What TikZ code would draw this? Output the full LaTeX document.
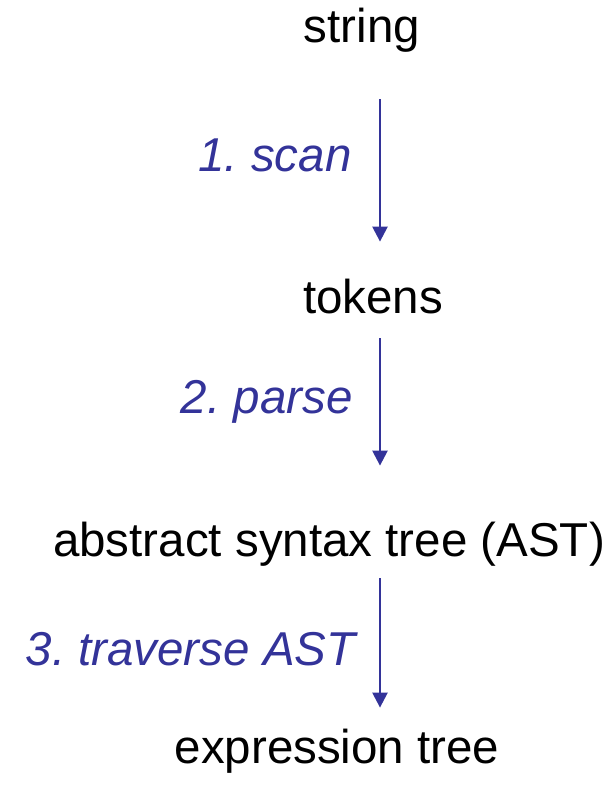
\documentclass[tikz,border=0pt]{standalone}
\usepackage{fontspec}
\setmainfont{Liberation Sans}
\usepackage{tikz}
\usetikzlibrary{positioning, arrows.meta}
\frenchspacing
\definecolor{stepblue}{HTML}{333399}
\tikzstyle{stage} = [inner sep=0pt, anchor=base, text height=17pt, text depth=5pt, font=\fontsize{23.75}{28}\selectfont]
\tikzstyle{phase} = [inner sep=0pt, anchor=base east, text=stepblue, font=\fontsize{23.75}{28}\selectfont\itshape]
\tikzstyle{arrow} = [line width=1.2pt, stepblue, -{Triangle[width=7.5pt, length=7.5pt]}]

\begin{document}
\begin{tikzpicture}[x=0.5pt, y=-0.5pt]
  \useasboundingbox (0,0) rectangle (612,786);

  % Stages (black text)
  \node (string) [stage] at (362,43) {string};
  \node (tokens) [stage] at (373,313) {tokens};
  \node (ast) [stage] at (329,556) {abstract syntax tree (AST)};
  \node (exprtree) [stage] at (337,763) {expression tree};

  % Phase labels
  \node (scan) [phase] at (352,172) {1. scan};
  \node (parse) [phase] at (353,413) {2. parse};
  \node (traverse) [phase] at (356,665) {3. traverse AST};

  % Arrows down the column
  \coordinate (rail) at (380,0);
  \draw[arrow, shorten <=23pt, shorten >=18.5pt] (string.south -| rail) -- (tokens.north -| rail);
  \draw[arrow, shorten <=7.5pt, shorten >=28pt] (tokens.south -| rail) -- (ast.north -| rail);
  \draw[arrow, shorten <=6pt, shorten >=10.5pt] (ast.south -| rail) -- (exprtree.north -| rail);

\end{tikzpicture}
\end{document}
